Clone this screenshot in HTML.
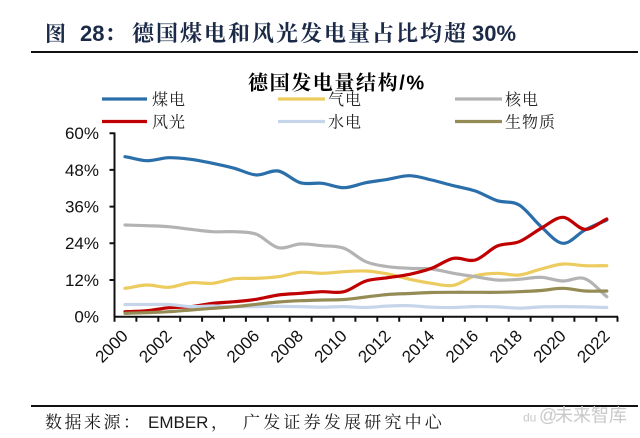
<!DOCTYPE html>
<html><head><meta charset="utf-8"><style>
html,body{margin:0;padding:0;background:#fff;}
svg{display:block;}
</style></head><body>
<svg width="640" height="438" viewBox="0 0 640 438" xmlns="http://www.w3.org/2000/svg">
<rect width="640" height="438" fill="#fff"/>
<!-- Title -->
<text y="41" font-weight="bold" fill="#1b2a47" font-size="22">
<tspan x="45" font-family="'Noto Serif CJK SC','Noto Sans CJK SC',serif" font-size="21">图</tspan>
<tspan x="80" font-family="'Liberation Sans',sans-serif">28</tspan><tspan font-family="'Noto Serif CJK SC','Noto Sans CJK SC',serif">：</tspan>
<tspan x="132" font-family="'Noto Serif CJK SC','Noto Sans CJK SC',serif" letter-spacing="2">德国煤电和风光发电量占比均超</tspan>
<tspan x="472" font-family="'Liberation Sans',sans-serif">30%</tspan>
</text>
<line x1="31" y1="52" x2="638" y2="52" stroke="#111" stroke-width="2"/>
<!-- Chart title -->
<text x="248" y="89.5" font-family="'Noto Serif CJK SC','Noto Sans CJK SC',serif" font-weight="bold" font-size="20" letter-spacing="1.6" fill="#000">德国发电量结构<tspan font-family="'Liberation Sans',sans-serif">/%</tspan></text>
<!-- Legend -->
<g stroke-width="3.2" fill="none">
<line x1="102" y1="99" x2="147" y2="99" stroke="#2a6faa"/>
<line x1="278" y1="99" x2="325" y2="99" stroke="#eccb5f"/>
<line x1="455" y1="99" x2="502" y2="99" stroke="#b3b3b3"/>
<line x1="102" y1="121.5" x2="147" y2="121.5" stroke="#c00000"/>
<line x1="278" y1="121.5" x2="325" y2="121.5" stroke="#c6d5ea"/>
<line x1="455" y1="121.5" x2="502" y2="121.5" stroke="#958b55"/>
</g>
<g font-family="'Noto Serif CJK SC','Noto Sans CJK SC',serif" font-size="16" letter-spacing="1" fill="#222">
<text x="152" y="105">煤电</text>
<text x="328" y="105">气电</text>
<text x="505" y="105">核电</text>
<text x="152" y="127.5">风光</text>
<text x="328" y="127.5">水电</text>
<text x="505" y="127.5">生物质</text>
</g>
<!-- Y axis labels -->
<g font-family="'Liberation Sans',sans-serif" font-size="17" fill="#111" text-anchor="end">
<text x="99" y="139">60%</text>
<text x="99" y="175.8">48%</text>
<text x="99" y="212.5">36%</text>
<text x="99" y="249.2">24%</text>
<text x="99" y="285.9">12%</text>
<text x="99" y="322.7">0%</text>
</g>
<!-- Axes -->
<g stroke="#111" stroke-width="2" fill="none">
<line x1="114.5" y1="132.5" x2="114.5" y2="317.5"/>
<line x1="113.5" y1="316.7" x2="618" y2="316.7"/>
<path d="M109.5 133.2H114.5M109.5 169.9H114.5M109.5 206.6H114.5M109.5 243.3H114.5M109.5 280H114.5"/>
<path d="M114.5 316.7v5M136.4 316.7v5M158.3 316.7v5M180.2 316.7v5M202.1 316.7v5M224 316.7v5M245.9 316.7v5M267.8 316.7v5M289.7 316.7v5M311.6 316.7v5M333.5 316.7v5M355.4 316.7v5M377.3 316.7v5M399.2 316.7v5M421.1 316.7v5M443 316.7v5M464.9 316.7v5M486.8 316.7v5M508.7 316.7v5M530.6 316.7v5M552.5 316.7v5M574.4 316.7v5M596.3 316.7v5M617.5 316.7v5"/>
</g>
<!-- Series -->
<g fill="none" stroke-width="3.2" stroke-linejoin="round" stroke-linecap="round">
<path stroke="#2a6faa" d="M125,156.7 C132.3,157.7 139.6,160.5 146.9,160.7 S161.5,157.9 168.8,157.7 S183.4,158.4 190.7,159.3 S205.3,161.8 212.6,163.3 S227.2,166.35 234.5,168.3 S249.1,174.55 256.4,175 S271,169.7 278.3,171 S292.9,180.65 300.2,182.7 S314.8,182.5 322.1,183.3 S336.7,187.8 344,187.7 S358.6,184.1 365.9,182.7 S380.5,180.5 387.8,179.3 S402.4,175.6 409.7,175.7 S424.3,178.3 431.6,180 S446.2,183.9 453.5,185.7 S468.1,188.5 475.4,191 S490,198.4 497.3,200.7 S511.9,200.7 519.2,205 S533.8,220.3 541.1,226.7 S555.7,242.75 563,243.3 S577.6,233.9 584.9,230 S599.5,223.3 606.8,220"/>
<path stroke="#eccb5f" d="M125,288.3 C132.3,287.5 139.6,285.17 146.9,285 S161.5,287.68 168.8,287.3 S183.4,283.37 190.7,282.7 S205.3,283.97 212.6,283.3 S227.2,279.53 234.5,278.7 S249.1,278.63 256.4,278.3 S271,277.7 278.3,276.7 S292.9,272.87 300.2,272.3 S314.8,273.4 322.1,273.3 S336.7,272.08 344,271.7 S358.6,270.62 365.9,271 S380.5,272.62 387.8,274 S402.4,277.75 409.7,279.3 S424.3,282.3 431.6,283.3 S446.2,286.57 453.5,285.3 S468.1,277.7 475.4,275.7 S490,273.42 497.3,273.3 S511.9,275.72 519.2,275 S533.8,270.83 541.1,269 S555.7,264.55 563,264 S577.6,265.42 584.9,265.7 S599.5,265.7 606.8,265.7"/>
<path stroke="#b3b3b3" d="M125,225 C132.3,225.2 139.6,225.42 146.9,225.7 S161.5,226.1 168.8,226.7 S183.4,228.47 190.7,229.3 S205.3,231.3 212.6,231.7 S227.2,231.27 234.5,231.7 S249.1,231.63 256.4,234.3 S271,246.08 278.3,247.7 S292.9,244.33 300.2,244 S314.8,244.98 322.1,245.7 S336.7,245.63 344,248.3 S358.6,258.63 365.9,261.7 S380.5,265.6 387.8,266.7 S402.4,267.92 409.7,268.3 S424.3,268.17 431.6,269 S446.2,272.02 453.5,273.3 S468.1,275.58 475.4,276.7 S490,279.57 497.3,280 S511.9,279.75 519.2,279.3 S533.8,277.02 541.1,277.3 S555.7,280.77 563,281 S577.6,276.08 584.9,278.7 S599.5,290.7 606.8,296.7"/>
<path stroke="#c00000" d="M125,311.7 C132.3,311.45 139.6,311.37 146.9,310.7 S161.5,308.37 168.8,307.7 S183.4,307.43 190.7,306.7 S205.3,304.13 212.6,303.3 S227.2,302.37 234.5,301.7 S249.1,300.42 256.4,299.3 S271,296 278.3,295 S292.9,293.85 300.2,293.3 S314.8,291.97 322.1,291.7 S336.7,293.48 344,291.7 S358.6,283.33 365.9,281 S380.5,278.82 387.8,277.7 S402.4,275.87 409.7,274.3 S424.3,270.97 431.6,268.3 S446.2,259.68 453.5,258.3 S468.1,262.05 475.4,260 S490,249.05 497.3,246 S511.9,244.65 519.2,241.7 S533.8,232.37 541.1,228.3 S555.7,217.13 563,217.3 S577.6,229.02 584.9,229.3 S599.5,222.43 606.8,219"/>
<path stroke="#c6d5ea" d="M125,304.5 C132.3,304.5 139.6,304.5 146.9,304.5 S161.5,304.15 168.8,304.5 S183.4,306.35 190.7,306.6 S205.3,306 212.6,306 S227.2,306.5 234.5,306.6 S249.1,306.65 256.4,306.6 S271,306.3 278.3,306.3 S292.9,306.45 300.2,306.6 S314.8,307.2 322.1,307.2 S336.7,306.55 344,306.6 S358.6,307.6 365.9,307.5 S380.5,306.3 387.8,306 S402.4,305.5 409.7,305.7 S424.3,306.9 431.6,307.2 S446.2,307.6 453.5,307.5 S468.1,306.7 475.4,306.6 S490,306.65 497.3,306.9 S511.9,308.1 519.2,308.1 S533.8,307.15 541.1,306.9 S555.7,306.6 563,306.6 S577.6,306.75 584.9,306.9 S599.5,307.3 606.8,307.5"/>
<path stroke="#958b55" d="M125,313.3 C132.3,313.15 139.6,312.97 146.9,312.7 S161.5,312.15 168.8,311.7 S183.4,310.57 190.7,310 S205.3,308.85 212.6,308.3 S227.2,307.37 234.5,306.7 S249.1,305.08 256.4,304.3 S271,302.6 278.3,302 S292.9,301.03 300.2,300.7 S314.8,300.2 322.1,300 S336.7,300 344,299.5 S358.6,297.83 365.9,297 S380.5,295.08 387.8,294.5 S402.4,293.83 409.7,293.5 S424.3,292.7 431.6,292.5 S446.2,292.33 453.5,292.3 S468.1,292.3 475.4,292.3 S490,292.4 497.3,292.3 S511.9,292 519.2,291.7 S533.8,291.07 541.1,290.5 S555.7,288.22 563,288.3 S577.6,290.55 584.9,291 S599.5,291 606.8,291"/>
</g>
<!-- X labels -->
<g font-family="'Liberation Sans',sans-serif" font-size="17" fill="#111" text-anchor="end">
<text x="129" y="337" transform="rotate(-45 129 337)">2000</text>
<text x="172.8" y="337" transform="rotate(-45 172.8 337)">2002</text>
<text x="216.6" y="337" transform="rotate(-45 216.6 337)">2004</text>
<text x="260.4" y="337" transform="rotate(-45 260.4 337)">2006</text>
<text x="304.2" y="337" transform="rotate(-45 304.2 337)">2008</text>
<text x="348" y="337" transform="rotate(-45 348 337)">2010</text>
<text x="391.8" y="337" transform="rotate(-45 391.8 337)">2012</text>
<text x="435.6" y="337" transform="rotate(-45 435.6 337)">2014</text>
<text x="479.4" y="337" transform="rotate(-45 479.4 337)">2016</text>
<text x="523.2" y="337" transform="rotate(-45 523.2 337)">2018</text>
<text x="567" y="337" transform="rotate(-45 567 337)">2020</text>
<text x="610.8" y="337" transform="rotate(-45 610.8 337)">2022</text>
</g>
<!-- Bottom rule & source -->
<line x1="31" y1="406" x2="638" y2="406" stroke="#111" stroke-width="2"/>
<text y="428" font-size="17" fill="#1a1a1a" font-family="'Noto Serif CJK SC','Noto Sans CJK SC',serif">
<tspan x="45" letter-spacing="2.5">数据来源：</tspan>
<tspan x="148" font-family="'Liberation Sans',sans-serif" letter-spacing="0">EMBER</tspan>
<tspan x="211">，</tspan>
<tspan x="243" letter-spacing="3.2">广发证券发展研究中心</tspan>
</text>
<!-- Watermark -->
<text y="421.5" font-size="18" fill="#c8c8c8" font-family="'Liberation Sans','Noto Sans CJK SC',sans-serif">
<tspan x="523" font-size="12">du</tspan><tspan x="539">@</tspan><tspan x="555" font-family="'Noto Sans CJK SC',sans-serif">未来智库</tspan>
</text>
</svg>
</body></html>
